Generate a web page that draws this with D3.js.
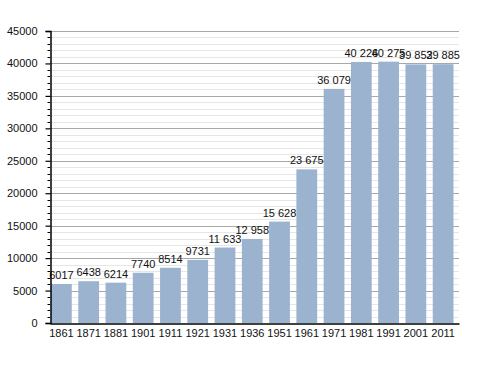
<!DOCTYPE html>
<html>
<head>
<meta charset="utf-8">
<script src="https://cdn.jsdelivr.net/npm/d3@7"></script>
<style>
  body { margin: 0; background: #fff; }
  text { font-family: "Liberation Sans", Arial, sans-serif; }
</style>
</head>
<body>
<div id="chart"></div>
<script>
// census years and population
const years = ['1861', '1871', '1881', '1901', '1911', '1921', '1931', '1936',
               '1951', '1961', '1971', '1981', '1991', '2001', '2011'];
const population = [6017, 6438, 6214, 7740, 8514, 9731, 11633, 12958,
                    15628, 23675, 36079, 40226, 40275, 39852, 39885];
const yTicks = [0, 5000, 10000, 15000, 20000, 25000, 30000, 35000, 40000, 45000];

const width = 488, height = 373;
const margin = {left: 50, right: 29, top: 31, bottom: 50};

const svg = d3.select('#chart')
    .append('svg')
    .attr('width', width)
    .attr('height', height);

let x = d3.scaleBand()
    .domain(years)
    .range([margin.left, width - margin.right]);

let y = d3.scaleLinear()
    .domain([0, 45000])
    .range([height - margin.bottom, margin.top]);

// minor gridlines every 1000
let minor = d3.range(1000, 45001, 1000).filter(d => d % 5000 !== 0);
svg.append('g')
    .selectAll('line')
    .data(minor)
    .enter()
    .append('line')
    .attr('x1', margin.left)
    .attr('x2', width - margin.right)
    .attr('y1', d => Math.round(y(d)) + 0.5)
    .attr('y2', d => Math.round(y(d)) + 0.5)
    .style('stroke', '#e6e6e6')
    .style('stroke-width', 1);

// major gridlines
svg.append('g')
    .selectAll('line')
    .data(yTicks.slice(1))
    .enter()
    .append('line')
    .attr('x1', margin.left)
    .attr('x2', width - margin.right)
    .attr('y1', d => Math.round(y(d)) + 0.5)
    .attr('y2', d => Math.round(y(d)) + 0.5)
    .style('stroke', '#a8a8a8')
    .style('stroke-width', 1);

// bars
let barOffset = 1;
let barWidth = x.bandwidth() - 6.5;
svg.append('g')
    .selectAll('rect')
    .data(population)
    .enter()
    .append('rect')
    .attr('x', (d, i) => x(years[i]) + barOffset)
    .attr('y', d => y(d))
    .attr('width', barWidth)
    .attr('height', d => y(0) - y(d))
    .style('fill', '#9bb3cf');

// value labels, thousands separated by a space when >= 10000
let fmt = d => d >= 10000 ? d3.format(',')(d).replace(/,/g, ' ') : String(d);
svg.append('g')
    .selectAll('text')
    .data(population)
    .enter()
    .append('text')
    .attr('x', (d, i) => x(years[i]) + barOffset + barWidth / 2)
    .attr('y', d => y(d) - 5)
    .attr('text-anchor', 'middle')
    .style('font-size', '11px')
    .style('fill', '#111')
    .text(fmt);

// y axis
let yAxis = d3.axisLeft(y)
    .tickValues(yTicks)
    .tickSize(5)
    .tickFormat(d3.format('d'));
let gy = svg.append('g')
    .attr('transform', `translate(${margin.left + 0.5},0)`)
    .call(yAxis);
gy.select('.domain').attr('stroke', '#000').attr('stroke-width', 1.5);
gy.selectAll('.tick line').attr('stroke-width', 1.2);
gy.selectAll('.tick text')
    .attr('x', -13)
    .style('font-size', '11px')
    .style('font-family', '"Liberation Sans", Arial, sans-serif')
    .style('fill', '#111');

// minor ticks on y axis
svg.append('g')
    .selectAll('line')
    .data(minor)
    .enter()
    .append('line')
    .attr('x1', margin.left - 2.5)
    .attr('x2', margin.left)
    .attr('y1', d => Math.round(y(d)) + 0.5)
    .attr('y2', d => Math.round(y(d)) + 0.5)
    .style('stroke', '#000');

// x axis
let xAxis = d3.axisBottom(x).tickSize(0).tickPadding(6);
let gx = svg.append('g')
    .attr('transform', `translate(0,${Math.round(y(0)) + 0.5})`)
    .call(xAxis);
gx.select('.domain').attr('stroke', '#000').attr('stroke-width', 1.5);
gx.selectAll('.tick')
    .attr('transform', d => `translate(${x(d) + barOffset + barWidth / 2},0)`);
gx.selectAll('.tick text')
    .style('font-size', '11px')
    .style('font-family', '"Liberation Sans", Arial, sans-serif')
    .style('fill', '#111');
</script>
</body>
</html>
